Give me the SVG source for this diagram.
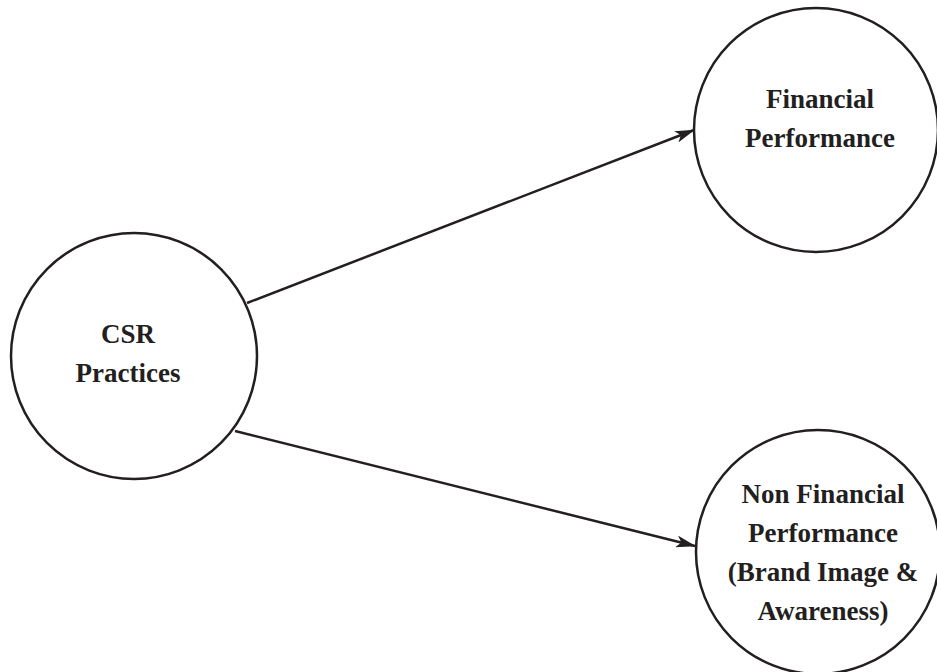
<svg xmlns="http://www.w3.org/2000/svg" width="937" height="672" viewBox="0 0 937 672">
<style>
.node{fill:#fff;stroke:#231f20;stroke-width:2.5}
.lbl{font-family:"Liberation Serif","Times New Roman",serif;font-weight:bold;font-size:27px;fill:#231f20;text-anchor:middle}
.conn{stroke:#231f20;stroke-width:2.5;fill:none}
</style>
<defs>
<marker id="arr" viewBox="0 0 20 12" refX="19" refY="6" markerWidth="20" markerHeight="12" markerUnits="userSpaceOnUse" orient="auto">
<path d="M0,0 L20,6 L0,12 L5,6 Z" fill="#231f20"/>
</marker>
</defs>
<rect width="937" height="672" fill="#fff"/>
<g id="connectors">
<line class="conn" x1="247" y1="303" x2="694" y2="130" marker-end="url(#arr)"/>
<line class="conn" x1="235" y1="431" x2="695" y2="546" marker-end="url(#arr)"/>
</g>
<g id="csr">
<circle class="node" cx="134" cy="356" r="123"/>
<text class="lbl" x="128" y="343">CSR</text>
<text class="lbl" x="128" y="382">Practices</text>
</g>
<g id="financial">
<circle class="node" cx="816" cy="130" r="122"/>
<text class="lbl" x="820" y="108">Financial</text>
<text class="lbl" x="820" y="147">Performance</text>
</g>
<g id="nonfinancial">
<circle class="node" cx="818" cy="552" r="122"/>
<text class="lbl" x="823" y="503">Non Financial</text>
<text class="lbl" x="823" y="542">Performance</text>
<text class="lbl" x="823" y="581">(Brand Image &amp;</text>
<text class="lbl" x="823" y="620">Awareness)</text>
</g>
</svg>
